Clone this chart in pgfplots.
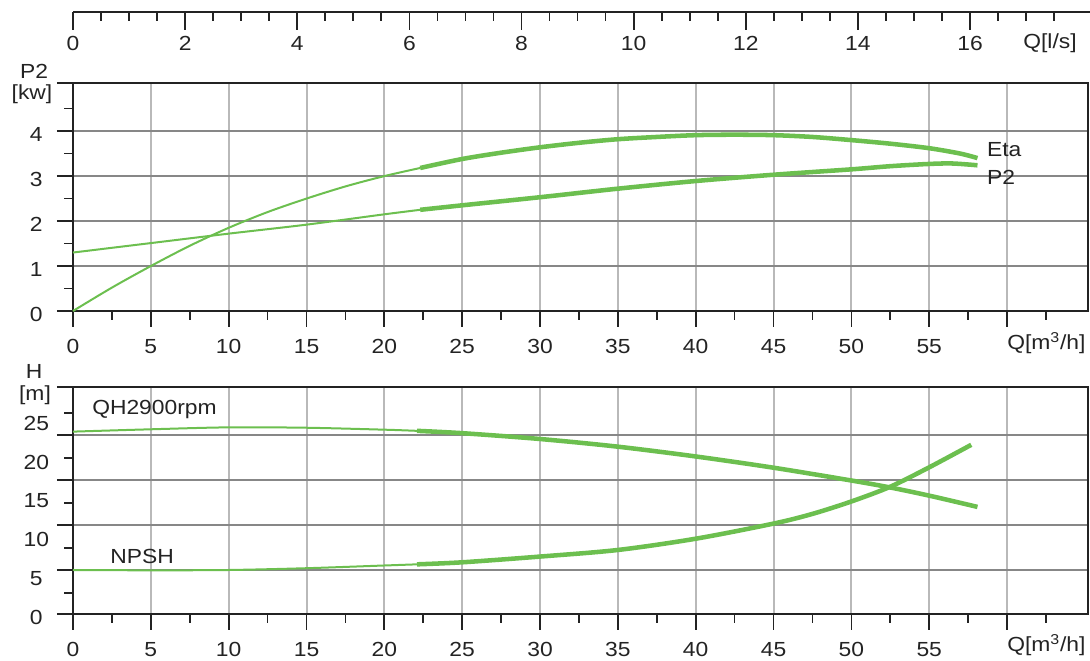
\documentclass[border=0pt]{standalone}
\usepackage{fontspec}
\setmainfont[FakeStretch=1.12]{Liberation Sans}
\usepackage{pgfplots}
\pgfplotsset{compat=1.18}
\definecolor{crv}{RGB}{108,191,79}
\definecolor{gridv}{RGB}{185,185,185}
\definecolor{gridh}{RGB}{135,135,135}
\definecolor{axc}{RGB}{35,35,35}
\definecolor{txt}{RGB}{35,35,35}
\newcommand\ff{\fontsize{15.3}{17}\selectfont}
\pgfplotsset{
  base/.style={
    scale only axis, width=761.25pt,
    xmin=0, xmax=65.2,
    axis line style={axc, line width=1.5pt},
    every tick/.style={axc, line width=1.3pt},
    tick align=outside,
    xtick pos=bottom, ytick pos=left,
    major tick length=12pt, minor tick length=6.5pt,
    xtick={0,5,...,60},
    xticklabels={0,5,10,15,20,25,30,35,40,45,50,55,{}},
    minor xtick={2.5,7.5,...,62.5},
    xmajorgrids, ymajorgrids,
    major x grid style={gridv, line width=1.5pt},
    major y grid style={gridh, line width=1.1pt},
    tick label style={font=\ff, text=txt},
    xticklabel style={yshift=-5.5pt},
    yticklabel style={anchor=center, xshift=-15.5pt, yshift=-2.5pt},
    /pgf/number format/assume math mode=true,
    clip=false, no marks,
  },
  thin/.style={crv, line width=1.5pt, smooth},
  thick/.style={crv, line width=3.4pt, smooth},
}
\begin{document}
\begin{tikzpicture}
\path[use as bounding box] (0pt,0pt) rectangle (817.5pt,495.75pt);

% top l/s scale
\begin{axis}[scale only axis, width=762.75pt, height=10pt,
  at={(54.75pt,486.75pt)}, anchor=south west,
  xmin=0, xmax=18.14, ymin=0, ymax=1,
  axis y line=none, axis x line*=bottom,
  axis line style={axc, line width=1.5pt, -},
  every tick/.style={axc, line width=1.3pt},
  tick align=outside,
  major tick length=13.5pt, minor tick length=6.75pt,
  xtick={0,2,...,16}, minor xtick={0.5,1,...,17.5},
  tick label style={font=\ff, text=txt},
  xticklabel style={yshift=-1.5pt},
  /pgf/number format/assume math mode=true]
\end{axis}

% upper P2 axis
\begin{axis}[base, at={(54.75pt,262.5pt)}, anchor=south west, height=171pt,
  ymin=0, ymax=5.07, ytick={0,1,2,3,4,5.07}, yticklabels={0,1,2,3,4,{}},
  minor ytick={0.5,1.5,...,4.5}]
\addplot[thin] coordinates {(0,0) (2.5,0.52) (5,1.0) (7.5,1.45) (10,1.85) (12.5,2.2) (15,2.5) (17.5,2.77) (20,3.0) (22.3,3.18)};
\addplot[thick] coordinates {(22.3,3.18) (25,3.38) (27.5,3.52) (30,3.64) (32.5,3.74) (35,3.82) (37.5,3.87) (40,3.91) (42.5,3.92) (45,3.91) (47.5,3.87) (50,3.80) (52.5,3.72) (55,3.62) (57,3.50) (58.1,3.40)};
\addplot[thin] coordinates {(0,1.30) (5,1.51) (10,1.72) (15,1.92) (20,2.15) (22.3,2.25)};
\addplot[thick] coordinates {(22.3,2.25) (25,2.35) (30,2.53) (35,2.72) (40,2.89) (45,3.03) (50,3.15) (52.5,3.22) (55,3.27) (56.5,3.28) (58.1,3.24)};
\node[anchor=west, font=\ff, text=txt, inner sep=0pt] at (axis cs:58.7,3.6) {Eta};
\node[anchor=west, font=\ff, text=txt, inner sep=0pt] at (axis cs:58.7,2.98) {P2};
\node[anchor=west, font=\ff, text=txt, inner sep=0pt] at (axis cs:60,-0.71) {Q[m\textsuperscript{3}/h]};
\end{axis}

% lower H axis
\begin{axis}[base, at={(54.75pt,35.25pt)}, anchor=south west, height=170.25pt,
  ymin=0, ymax=29.25, ytick={0,5.67,11.47,17.27,23.07,29.25}, yticklabels={,,,,,},
  minor ytick={2.71,8.51,14.30,20.10,25.90},
  extra y ticks={0,5,10,15,20,25}, extra y tick labels={0,5,10,15,20,25},
  extra y tick style={ymajorgrids=false, major tick style={draw=none}}]
\addplot[thin] coordinates {(0,23.5) (5,23.8) (10,24.05) (15,24.0) (20,23.75) (22.1,23.6)};
\addplot[thick] coordinates {(22.1,23.6) (25,23.3) (30,22.55) (35,21.56) (40,20.3) (45,18.85) (50,17.2) (52.5,16.3) (55,15.25) (58.1,13.8)};
\addplot[thin] coordinates {(0,5.67) (5,5.63) (10,5.67) (15,5.9) (20,6.25) (22.1,6.4)};
\addplot[thick] coordinates {(22.1,6.4) (25,6.66) (30,7.4) (35,8.25) (40,9.7) (45,11.65) (47.5,12.9) (50,14.5) (52.5,16.4) (55,18.9) (57.7,21.8)};
\node[anchor=west, font=\ff, text=txt, inner sep=0pt] at (axis cs:1.22,26.3) {QH2900rpm};
\node[anchor=west, font=\ff, text=txt, inner sep=0pt] at (axis cs:2.38,7.47) {NPSH};
\node[anchor=west, font=\ff, text=txt, inner sep=0pt] at (axis cs:60,-4.0) {Q[m\textsuperscript{3}/h]};
\end{axis}

\node[font=\ff, text=txt] at (25.5pt,442.5pt) {P2};
\node[font=\ff, text=txt] at (24pt,425.25pt) {[kw]};
\node[font=\ff, text=txt] at (25.5pt,217.5pt) {H};
\node[font=\ff, text=txt] at (26.25pt,199.5pt) {[m]};
\node[font=\ff, text=txt] at (787.5pt,463.5pt) {Q[l/s]};
\end{tikzpicture}
\end{document}
